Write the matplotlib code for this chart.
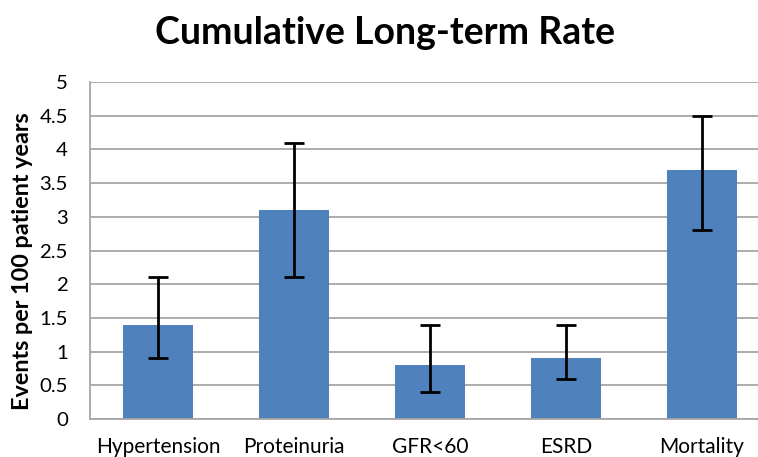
import matplotlib
matplotlib.use('Agg')
import matplotlib.pyplot as plt
import numpy as np

# ── Data ──────────────────────────────────────────────────────────────────
categories = ["Hypertension", "Proteinuria", "GFR<60", "ESRD", "Mortality"]
rates = [1.4, 3.1, 0.8, 0.9, 3.7]
lower = [0.9, 2.1, 0.4, 0.6, 2.8]
upper = [2.1, 4.1, 1.4, 1.4, 4.5]

plt.rcParams['font.family'] = ['Lato', 'DejaVu Sans']

# ── Plot ──────────────────────────────────────────────────────────────────
fig = plt.figure(figsize=(7.58, 4.57), dpi=100)
ax = fig.add_axes([90 / 758, 1 - 419 / 457, 680 / 758, 337 / 457])

x = np.arange(len(categories))
r = np.array(rates)
yerr = [r - np.array(lower), np.array(upper) - r]
ax.bar(x, rates, width=0.51, color='#4F81BD', zorder=2)
ax.errorbar(x, rates, yerr=yerr, fmt='none', ecolor='black', elinewidth=2,
            capsize=7, capthick=2, zorder=3)

ax.set_xlim(-0.5, len(categories) - 0.5)
ax.set_ylim(0, 5)
ax.set_yticks(np.arange(0, 5.01, 0.5))
ax.set_yticklabels(['0', '0.5', '1', '1.5', '2', '2.5', '3', '3.5', '4', '4.5', '5'])
ax.set_xticks(x)
ax.set_xticklabels(categories)
ax.yaxis.grid(True, color='#a6a6a6', linewidth=1.3, zorder=0)
ax.set_axisbelow(True)

for s in ['top', 'right']:
    ax.spines[s].set_visible(False)
for s in ['left', 'bottom']:
    ax.spines[s].set_color('#a6a6a6')
    ax.spines[s].set_linewidth(1.3)

ax.tick_params(axis='y', length=0, labelsize=14.7, pad=16)
ax.tick_params(axis='x', length=0, labelsize=15, pad=13)
ax.set_ylabel('Events per 100 patient years', fontsize=16.8, fontweight='bold')
ax.yaxis.set_label_coords(-57 / 680, 1 - (261 - 82) / 337)

fig.suptitle('Cumulative Long-term Rate', x=385 / 758, y=1 - 33 / 457, va='center',
             fontsize=27, fontweight='bold')

fig.savefig('out.png', dpi=100)
